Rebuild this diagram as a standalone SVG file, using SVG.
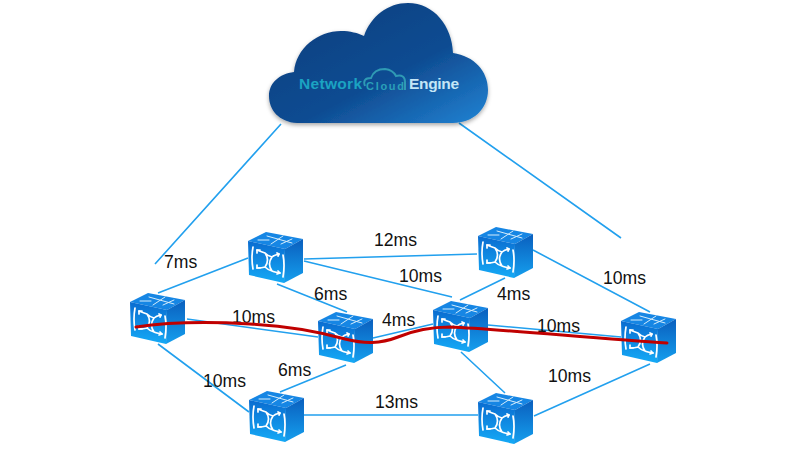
<svg xmlns="http://www.w3.org/2000/svg" width="800" height="462" viewBox="0 0 800 462">
<style>
.l{fill:none;stroke:#22a0ee;stroke-width:1.6}
.t{font-family:"Liberation Sans",Arial,sans-serif;font-size:17.6px;fill:#111}
.ic{fill:none;stroke:#fff;stroke-width:1.7;stroke-linecap:round;stroke-linejoin:round}
.tp{fill:none;stroke:#d5ecfb;stroke-width:1;stroke-linecap:round}
.c{font-family:"Liberation Sans",Arial,sans-serif;font-weight:bold}
</style>
<defs>
<linearGradient id="cl" x1="0.1" y1="0.1" x2="0.95" y2="1"><stop offset="0" stop-color="#0f3f80"/><stop offset="0.55" stop-color="#0f4c92"/><stop offset="1" stop-color="#2080d0"/></linearGradient>
<linearGradient id="fr" x1="0" y1="0" x2="0" y2="1"><stop offset="0" stop-color="#0a6cd0"/><stop offset="1" stop-color="#15aaf6"/></linearGradient>
<linearGradient id="sd" x1="0" y1="0" x2="0" y2="1"><stop offset="0" stop-color="#0a5fbe"/><stop offset="1" stop-color="#159fee"/></linearGradient>
<filter id="sh" x="-10%" y="-10%" width="120%" height="125%"><feDropShadow dx="0" dy="2" stdDeviation="2" flood-color="#000" flood-opacity="0.35"/></filter>
<g id="sw">
<path d="M0 9L18 0L55 7L37 17Z" fill="#1686e4"/>
<path d="M0 9L37 17L36 51L1 43Z" fill="url(#fr)"/>
<path d="M37 17L55 7L55 41L36 51Z" fill="url(#sd)"/>
<path class="tp" d="M19 4L44 11M35 4L23 12M10 8L21 8M33 12L44 7"/>
<path class="ic" d="M5 15Q3 26 5 37M35 23Q37 33 35 45"/>
<path class="ic" d="M9 18Q14 20 17 21Q22 28 17 35Q14 36 9 36M31 22Q26 23 24 25Q19 32 24 39Q26 40 32 41M17 21Q20 24 24 25M17 35Q20 38 24 39"/>
<path class="ic" d="M9 21V18H12M9 33V36H12M29 21L31 22L30 24M30 39L32 41L29 42"/>
</g>
</defs>
<g id="connectors">
<path class="l" d="M281 124L155 264M459 123L621 238"/>
<path class="l" d="M158 293L248 258M304 259L477 254M304 261L452 297M277 284L347 312M533 250L650 312"/>
<path class="l" d="M187 319L318 337M373 338L433 324M460 300L505 278M488 325L621 337"/>
<path class="l" d="M158 344L249 412M346 365L280 392M304 415L478 415M461 352L505 393M534 416L650 364"/>
</g>
<g id="cloud"><path filter="url(#sh)" fill="url(#cl)" d="M297 123C279 122 269 110 269 96C269 83 279 74 294 72C296 48 318 31 341 31C350 31 358 33 364 36C371 16 388 3 408 3C434 3 452 26 453 53C474 56 488 71 488 90C488 109 473 123 453 123Z"/>
<text class="c" x="299" y="89" font-size="15.5" fill="#1ba3c2" textLength="63">Network</text>
<path d="M365 86Q362 78 371 78Q374 69 385 69Q393 70 396 76Q405 74 405 82V90" fill="none" stroke="#2f9ab4" stroke-width="2"/>
<text class="c" x="366" y="90" font-size="11" fill="#2aa0b8" textLength="38">Cloud</text>
<text class="c" x="409" y="89" font-size="15.5" fill="#c4e6f6" textLength="50">Engine</text></g>
<g id="n1"><use href="#sw" x="130" y="293"/></g>
<g id="n2"><use href="#sw" x="248" y="232"/></g>
<g id="n3"><use href="#sw" x="318" y="312"/></g>
<g id="n4"><use href="#sw" x="433" y="301"/></g>
<g id="n5"><use href="#sw" x="621" y="312"/></g>
<g id="n6"><use href="#sw" x="478" y="227"/></g>
<g id="n7"><use href="#sw" x="249" y="391"/></g>
<g id="n8"><use href="#sw" x="478" y="393"/></g>
<g id="labels">
<text class="t" x="164" y="268">7ms</text>
<text class="t" x="374" y="246">12ms</text>
<text class="t" x="399" y="282">10ms</text>
<text class="t" x="603" y="284">10ms</text>
<text class="t" x="314" y="300">6ms</text>
<text class="t" x="232" y="323">10ms</text>
<text class="t" x="382" y="326">4ms</text>
<text class="t" x="497" y="300">4ms</text>
<text class="t" x="537" y="332">10ms</text>
<text class="t" x="203" y="387">10ms</text>
<text class="t" x="278" y="376">6ms</text>
<text class="t" x="548" y="382">10ms</text>
<text class="t" x="375" y="408">13ms</text>
</g>
<path id="route" fill="none" stroke="#c00000" stroke-width="3" stroke-linecap="round" d="M136 327C170 322 215 322 250 324C290 326 320 332 345 339C365 344 380 344 398 337C415 330 430 327 450 327C500 329 600 339 667 343"/>
</svg>
